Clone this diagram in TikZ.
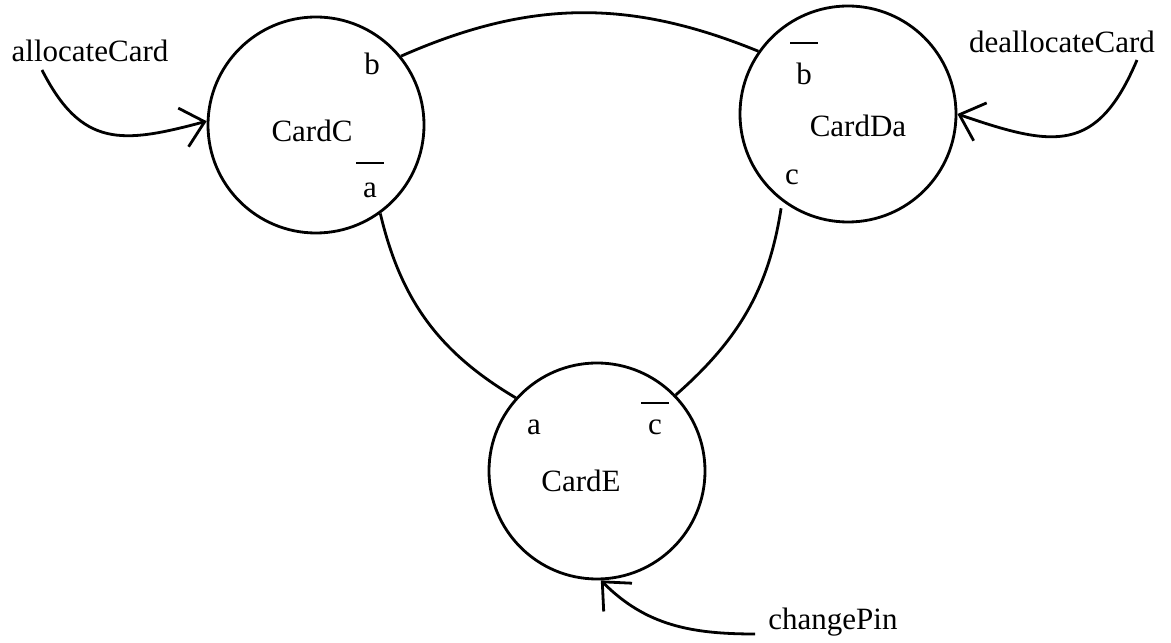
\documentclass[tikz,border=0pt]{standalone}
\usepackage{fontspec}
\setmainfont{Liberation Serif}
\usetikzlibrary{arrows.meta}

% letter with a bar set above it, raised by #2
\newcommand{\barletter}[2]{\ooalign{#1\cr\hidewidth\raisebox{#2}{\rule{28pt}{1.6pt}}\hidewidth\cr}}

\tikzset{
  statecircle/.style={circle, draw, line width=2.8pt, minimum size=216pt, inner sep=0pt},
  txt/.style={font=\fontsize{31}{37}\selectfont, inner sep=0pt, anchor=base},
  conn/.style={line width=2.8pt},
  trig/.style={conn, -{Straight Barb[length=22pt, width=40pt, line width=2.8pt]}},
}

\begin{document}
\begin{tikzpicture}[x=1pt, y=1pt]
  \useasboundingbox (0,0) rectangle (1171,643);

  % states
  \node[statecircle] (C)  at (316,518) {};
  \node[statecircle] (Da) at (848,529) {};
  \node[statecircle] (E)  at (597,172) {};

  % state names and port letters
  \node[txt] (nC)  at (312,501) {CardC};
  \node[txt] (pCb) at (372,568) {b};
  \node[txt] (pCa) at (370,445) {\barletter{a}{34pt}};

  \node[txt] (nDa)  at (858,506) {CardDa};
  \node[txt] (pDab) at (804,558) {\barletter{b}{41pt}};
  \node[txt] (pDac) at (792,458) {c};

  \node[txt] (nE)  at (581,151) {CardE};
  \node[txt] (pEa) at (534,208) {a};
  \node[txt] (pEc) at (655,208) {\barletter{c}{31pt}};

  % triggers
  \node[txt] (alloc)   at (90,581)   {allocateCard};
  \node[txt] (dealloc) at (1062,590) {deallocateCard};
  \node[txt] (chpin)   at (833,13)   {changePin};

  \coordinate (a0) at (42,573);
  \coordinate (d0) at (1137,583);
  \coordinate (p0) at (755,9);

  % links between states
  \draw[conn] (C.39) to[bend left=23] (Da.145);
  \draw[conn] (C.-54) to[bend right=23] (E.138);
  \draw[conn, shorten <=7pt] (Da.-127) to[bend left=20] (E.44);

  % trigger arrows
  \draw[trig] (a0) to[out=-63, in=195, looseness=1.3] (C.178);
  \draw[trig] (d0) to[out=-113, in=-19, looseness=1.4] (Da.0);
  \draw[trig] (p0) to[out=180, in=-45] (E.-88);
\end{tikzpicture}
\end{document}
